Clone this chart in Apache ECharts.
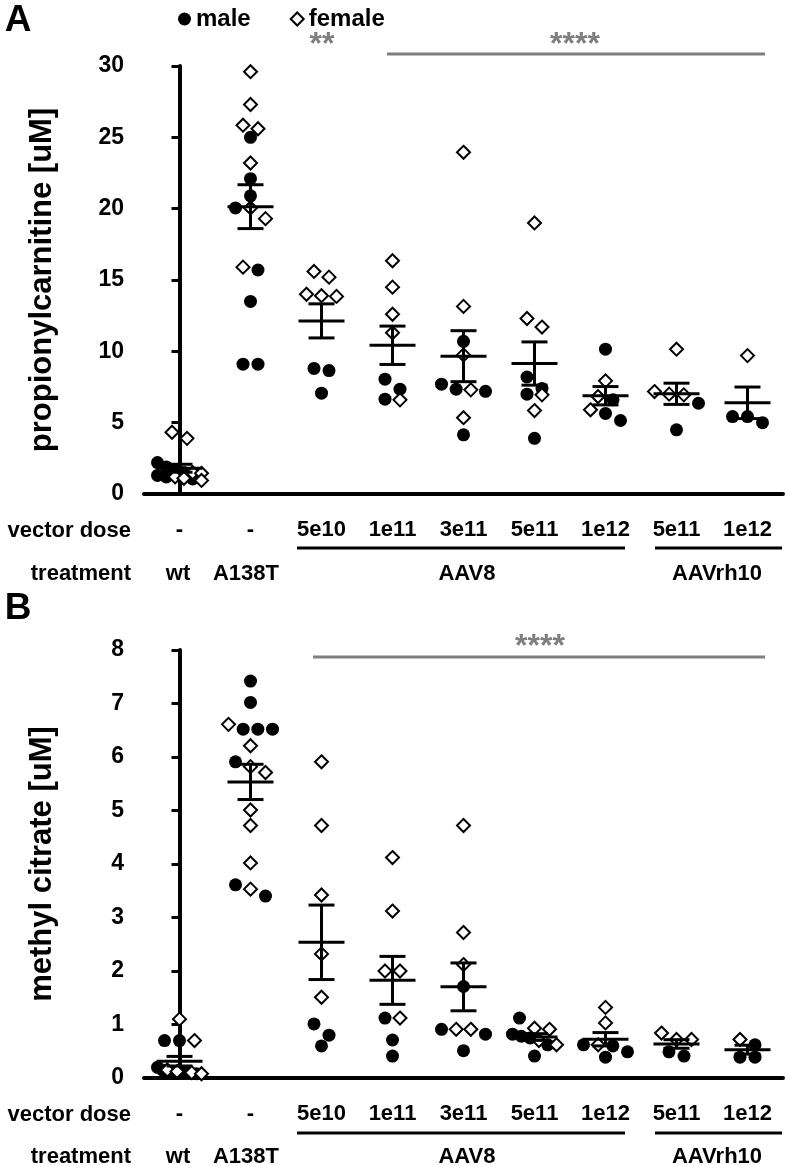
<!DOCTYPE html>
<html><head><meta charset="utf-8">
<script src="https://cdn.jsdelivr.net/npm/echarts/dist/echarts.min.js"></script>
<style>html,body{margin:0;padding:0;background:#fff}#c{width:792px;height:1166px}</style>
</head><body><div id="c"></div><script>
const FONT = "'Liberation Sans', Arial, sans-serif";

// x-axis rows
const doseLabels = ['-', '-', '5e10', '1e11', '3e11', '5e11', '1e12', '5e11', '1e12'];
const treatmentSingles = ['wt', 'A138T'];
const treatmentGroups = ['AAV8', 'AAVrh10'];

// Panel A: propionylcarnitine [uM], one list per group (same order as doseLabels)
const propMale = [
  [2.2, 1.9, 1.7, 1.5, 1.3, 1.2, 1.05],
  [25.0, 22.1, 20.9, 20.05, 15.7, 13.5, 9.1, 9.1],
  [8.8, 8.65, 7.07],
  [8.05, 7.35, 6.65],
  [10.7, 7.7, 7.2, 7.35, 4.15],
  [8.2, 7.4, 7.0, 3.9],
  [10.15, 6.6, 5.65, 5.15],
  [6.36, 4.5],
  [5.43, 5.0, 5.43]
];
const propFemale = [
  [3.9, 4.33, 1.5, 1.45, 1.2, 0.95, 1.1],
  [29.6, 27.3, 25.85, 25.6, 23.2, 20.05, 19.3, 15.9],
  [15.6, 15.2, 14.0, 13.85, 13.9],
  [16.35, 14.5, 12.6, 11.3, 6.6],
  [23.95, 13.15, 9.75, 7.3, 5.35],
  [19.0, 12.3, 11.7, 6.95, 5.85],
  [7.93, 6.83, 5.9],
  [10.15, 7.18, 6.95, 7.0],
  [9.7]
];
// Panel B: methyl citrate [uM]
const citMale = [
  [0.7, 0.7, 0.2, 0.15, 0.1, 0.12, 0.08, 0.1],
  [7.42, 7.02, 6.52, 6.52, 6.52, 5.91, 3.61, 3.40],
  [1.01, 0.80, 0.60],
  [1.12, 0.71, 0.41],
  [1.71, 0.82, 0.91, 0.51],
  [1.12, 0.82, 0.78, 0.75, 0.62, 0.41],
  [0.62, 0.60, 0.49, 0.39],
  [0.41, 0.49],
  [0.62, 0.39, 0.39]
];
const citFemale = [
  [1.1, 0.7, 0.15, 0.1, 0.12, 0.08],
  [6.61, 6.21, 5.82, 5.71, 5.01, 4.72, 4.02, 3.53],
  [5.91, 4.72, 3.42, 2.32, 1.51],
  [4.12, 3.12, 2.0, 2.0, 1.12],
  [4.72, 2.72, 2.12, 0.91, 0.91],
  [0.91, 0.93, 0.70, 0.62],
  [1.32, 1.03, 0.62],
  [0.72, 0.84, 0.72],
  [0.72]
];
const propTicks = {min: 0, max: 30, interval: 5};
const citTicks = {min: 0, max: 8, interval: 1};

// layout
const GRID_W = 639, GRID_H = 428, CAT_PX = GRID_W / doseLabels.length;

function stats(arr) {
  const n = arr.length;
  const m = arr.reduce((a, b) => a + b, 0) / n;
  const sd = n > 1 ? Math.sqrt(arr.reduce((a, b) => a + (b - m) * (b - m), 0) / (n - 1)) : 0;
  return {mean: m, sem: sd / Math.sqrt(n)};
}
// column-scatter layout: points in the same value band sit side by side, centred
function swarm(vals, pxPerUnit) {
  const BIN = 12, SPACING = 15, MAXW = 44;
  const order = vals.map((d, i) => i).sort((a, b) => vals[b] - vals[a]);
  const offs = new Array(vals.length);
  let k = 0;
  while (k < order.length) {
    const top = vals[order[k]];
    const row = [order[k]];
    k++;
    while (k < order.length && (top - vals[order[k]]) * pxPerUnit < BIN) { row.push(order[k]); k++; }
    const n = row.length;
    const sp = n > 1 ? Math.min(SPACING, MAXW / (n - 1)) : 0;
    row.forEach((idx, j) => { offs[idx] = (j - (n - 1) / 2) * sp / CAT_PX; });
  }
  return offs;
}
function buildPanel(male, female, ticks) {
  const ppu = GRID_H / (ticks.max - ticks.min);
  const md = [], fd = [], ed = [];
  male.forEach((mv, g) => {
    const fv = female[g];
    const all = mv.concat(fv);
    const offs = swarm(all, ppu);
    mv.forEach((v, j) => md.push([g + offs[j], v]));
    fv.forEach((v, j) => fd.push([g + offs[mv.length + j], v]));
    const s = stats(all);
    ed.push([g, s.mean, s.sem]);
  });
  return {md, fd, ed};
}
const pA = buildPanel(propMale, propFemale, propTicks);
const pB = buildPanel(citMale, citFemale, citTicks);

function errRender(params, api) {
  const x = api.value(0), m = api.value(1), s = api.value(2);
  const c = api.coord([x, m]), t = api.coord([x, m + s]), b = api.coord([x, m - s]);
  const st = {stroke: '#000', lineWidth: 3};
  return {type: 'group', children: [
    {type: 'line', shape: {x1: c[0] - 23, y1: c[1], x2: c[0] + 23, y2: c[1]}, style: st},
    {type: 'line', shape: {x1: c[0], y1: t[1], x2: c[0], y2: b[1]}, style: st},
    {type: 'line', shape: {x1: c[0] - 13, y1: t[1], x2: c[0] + 13, y2: t[1]}, style: st},
    {type: 'line', shape: {x1: c[0] - 13, y1: b[1], x2: c[0] + 13, y2: b[1]}, style: st}
  ]};
}

const grids = [
  {left: 144, top: 66, width: GRID_W, height: GRID_H},
  {left: 144, top: 650, width: GRID_W, height: GRID_H}
];
function catAxis(gi) {
  return {type: 'category', gridIndex: gi, data: doseLabels, boundaryGap: true,
    axisLine: {lineStyle: {color: '#000', width: 4}},
    axisTick: {alignWithLabel: true, length: 8, lineStyle: {color: '#000', width: 3}},
    axisLabel: {fontSize: 22, fontWeight: 'bold', color: '#000', fontFamily: FONT, margin: 25, interval: 0}};
}
function valXAxis(gi) {
  return {type: 'value', gridIndex: gi, min: -0.5, max: doseLabels.length - 0.5, show: false};
}
function yAx(gi, ticks, name) {
  return {type: 'value', gridIndex: gi, min: ticks.min, max: ticks.max, interval: ticks.interval,
    axisLine: {show: true, lineStyle: {color: '#000', width: 4}},
    axisTick: {show: true, length: 8, lineStyle: {color: '#000', width: 3}},
    axisLabel: {fontSize: 23, fontWeight: 'bold', color: '#000', fontFamily: FONT, margin: 20},
    splitLine: {show: false},
    name: name, nameLocation: 'middle', nameGap: 86,
    nameTextStyle: {fontSize: 31, fontWeight: 'bold', color: '#000', fontFamily: FONT}};
}
const maleStyle = {symbol: 'circle', symbolSize: 13, itemStyle: {color: '#000', opacity: 1}};
const femaleStyle = {symbol: 'diamond', symbolSize: 13, itemStyle: {color: '#fff', borderColor: '#000', borderWidth: 2, opacity: 1}};

function txt(x, y, s, opt) {
  return Object.assign({type: 'text', x: x, y: y, style: Object.assign({text: s, fill: '#000',
    font: 'bold 22px ' + FONT, textAlign: 'center', textVerticalAlign: 'middle'}, opt || {})});
}
function hline(x1, x2, y, color, w) {
  return {type: 'line', shape: {x1, y1: y, x2, y2: y}, style: {stroke: color || '#000', lineWidth: w || 3}};
}
const gray = '#7f7f7f';
const graphics = [
  txt(18, 21, 'A', {font: 'bold 37px ' + FONT}),
  txt(18, 609, 'B', {font: 'bold 37px ' + FONT}),
  // significance A
  txt(322, 45, '**', {fill: gray, font: 'bold 32px ' + FONT}),
  hline(387, 765, 54, gray, 3),
  txt(575, 45, '****', {fill: gray, font: 'bold 32px ' + FONT}),
  // significance B
  hline(313, 765, 657, gray, 3),
  txt(540, 647, '****', {fill: gray, font: 'bold 32px ' + FONT}),
  // rows A
  txt(131, 531, 'vector dose', {textAlign: 'right'}),
  txt(131, 574, 'treatment', {textAlign: 'right'}),
  txt(178, 574, treatmentSingles[0]), txt(246, 574, treatmentSingles[1]),
  hline(297, 625, 548), hline(655, 782, 548),
  txt(467, 574, treatmentGroups[0]), txt(717, 574, treatmentGroups[1]),
  // rows B
  txt(131, 1115, 'vector dose', {textAlign: 'right'}),
  txt(131, 1157, 'treatment', {textAlign: 'right'}),
  txt(178, 1157, treatmentSingles[0]), txt(246, 1157, treatmentSingles[1]),
  hline(297, 625, 1133), hline(655, 782, 1133),
  txt(467, 1157, treatmentGroups[0]), txt(717, 1157, treatmentGroups[1])
];

const chart = echarts.init(document.getElementById('c'), null, {renderer: 'canvas'});
chart.setOption({
  animation: false,
  backgroundColor: '#fff',
  textStyle: {fontFamily: FONT},
  grid: grids,
  xAxis: [catAxis(0), valXAxis(0), catAxis(1), valXAxis(1)],
  yAxis: [yAx(0, propTicks, 'propionylcarnitine [uM]'), yAx(1, citTicks, 'methyl citrate [uM]')],
  legend: {left: 173, top: 2, itemWidth: 13, itemHeight: 13, itemGap: 39, data: ['male', 'female'],
    textStyle: {fontSize: 24, fontWeight: 'bold', color: '#000', fontFamily: FONT}},
  graphic: graphics,
  series: [
    Object.assign({type: 'scatter', name: 'male', xAxisIndex: 1, yAxisIndex: 0, data: pA.md, z: 3}, maleStyle),
    Object.assign({type: 'scatter', name: 'female', xAxisIndex: 1, yAxisIndex: 0, data: pA.fd, z: 3}, femaleStyle),
    {type: 'custom', name: 'meanA', xAxisIndex: 1, yAxisIndex: 0, data: pA.ed, renderItem: errRender, z: 5},
    Object.assign({type: 'scatter', name: 'male', xAxisIndex: 3, yAxisIndex: 1, data: pB.md, z: 3}, maleStyle),
    Object.assign({type: 'scatter', name: 'female', xAxisIndex: 3, yAxisIndex: 1, data: pB.fd, z: 3}, femaleStyle),
    {type: 'custom', name: 'meanB', xAxisIndex: 3, yAxisIndex: 1, data: pB.ed, renderItem: errRender, z: 5}
  ]
});
</script></body></html>
